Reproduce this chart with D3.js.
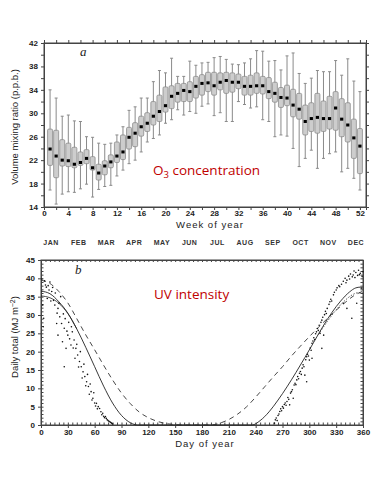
<!DOCTYPE html>
<html>
<head>
<meta charset="utf-8">
<script src="https://cdn.jsdelivr.net/npm/d3@7"></script>
<style>
  body { margin: 0; background: #fff; }
  svg { display: block; }
  .tick text { font-family: "Liberation Sans", Arial, sans-serif; font-weight: bold; fill: #222; }
</style>
</head>
<body>
<script>
// ---- panel a: weekly O3 box plots ----
const weeks = [1,2,3,4,5,6,7,8,9,10,11,12,13,14,15,16,17,18,19,20,21,22,23,24,25,26,
  27,28,29,30,31,32,33,34,35,36,37,38,39,40,41,42,43,44,45,46,47,48,49,50,51,52]
const whiskerHi = [34.0,32.6,29.5,29.7,28.7,28.6,26.0,25.9,24.9,24.7,24.9,26.3,27.7,30.5,31.1,32.6,32.6,35.4,37.3,36.9,39.4,36.3,36.3,38.9,
  38.2,38.6,38.7,39.5,39.7,39.2,38.4,38.3,38.6,39.3,40.7,40.6,38.9,39.0,37.4,39.8,40.3,36.8,35.1,36.0,37.3,37.1,37.1,39.0,36.5,39.3,35.5,33.7]
const q3 = [27.3,27.1,25.5,24.9,24.2,23.4,23.8,22.6,21.3,21.9,22.9,25.1,26.3,27.6,28.4,29.5,30.1,32.0,33.1,34.5,34.7,35.1,35.1,35.4,
  36.3,36.6,37.0,37.0,36.9,37.0,36.9,36.7,36.3,36.5,36.9,36.3,36.1,35.3,34.4,34.8,34.1,33.4,31.4,31.8,33.4,32.1,32.9,33.7,32.5,31.8,29.0,27.4]
const median = [23.9,22.7,22.0,21.9,21.3,21.6,22.3,20.7,19.8,21.0,21.7,22.7,23.4,25.9,26.6,27.7,28.3,29.5,30.3,31.3,32.9,33.4,33.9,33.7,
  34.6,35.1,35.2,34.7,35.3,35.6,35.3,35.3,34.6,34.6,34.7,34.7,33.7,33.4,32.7,32.6,31.4,30.7,28.6,29.1,29.3,29.1,29.1,30.9,29.0,28.0,25.8,24.4]
const q1 = [21.1,19.0,21.0,20.9,20.7,21.1,21.4,20.3,18.6,19.5,20.7,21.6,22.1,23.9,24.3,26.1,26.9,28.0,28.6,30.2,30.8,31.9,32.0,32.0,
  32.6,33.1,33.7,33.1,34.0,33.4,33.6,34.2,33.1,33.1,33.4,33.3,32.5,31.9,31.0,31.3,29.4,29.0,26.3,26.9,26.6,26.9,27.3,27.1,26.0,25.1,22.3,19.7]
const whiskerLo = [16.9,14.5,16.2,16.6,16.5,17.1,17.9,15.7,17.0,17.5,17.7,19.3,20.3,21.4,22.0,23.4,25.1,25.7,26.3,28.3,28.9,30.6,29.7,30.3,
  30.0,31.2,31.6,29.6,30.1,28.6,28.6,32.0,31.5,30.9,31.1,28.9,28.6,26.0,26.3,26.1,24.0,20.9,22.3,23.7,20.6,22.3,23.1,23.4,20.0,20.6,18.9,16.9]
const weekTicks = [0,2,4,6,8,10,12,14,16,18,20,22,24,26,28,30,32,34,36,38,40,42,44,46,48,50,52]
const ppbTicks = [14,16,18,20,22,24,26,28,30,32,34,36,38,40,42]

// ---- panel b: daily UV totals ----
const months = ['JAN','FEB','MAR','APR','MAY','JUN','JUL','AUG','SEP','OCT','NOV','DEC']
const curveSolid = [[0,36.5],[10,35.8],[20,33.6],[30,30.5],[40,26.2],[50,21.2],[60,15.9],[70,10.6],[80,6.0],[90,2.6],[100,0.6],[108,0],
  [236,0],[245,1.2],[255,3.6],[265,6.8],[275,10.4],[285,14.3],[295,18.4],[305,22.6],[315,26.8],[325,30.6],[335,33.8],[345,36.3],[352,37.4],[357,37.6],[360,37.3]]
const curveLow = [[0,35.2],[10,34.7],[20,33.2],[30,30.4],[40,26.2]]
const curveLowEnd = [[310,24.6],[320,28.2],[330,31.4],[340,34.0],[348,35.5],[355,36.1],[360,35.9]]
const curveDashed = [[0,39.5],[10,38.6],[20,36.4],[30,33.3],[40,29.0],[50,24.6],[60,20.5],[70,16.3],[80,12.3],[90,8.7],[100,5.8],[110,3.5],
  [120,2.0],[130,1.0],[140,0.4],[150,0.1],[160,0],[190,0],[200,0.5],[210,1.5],[220,3.0],[230,5.0],[240,7.6],[250,10.4],[260,13.2],
  [270,15.9],[280,18.8],[290,21.5],[300,24.1],[310,26.6],[320,29.0],[330,31.3],[340,33.4],[350,35.3],[360,36.5]]
const uvPoints = [[1,39.8],[2,32.7],[3,29.1],[2.5,26.8],[4,39.3],[5,38.2],[6,37.6],[7,34.5],[8,38.0],[9,36.8],[10,39.0],[11,33.8],
  [12,36.4],[13,37.5],[14,34.0],[15.5,32.7],[16,36.0],[17.5,27.7],[18,30.5],[19,31.8],[19,24.5],[20,33.2],[21,29.5],[22,35.0],
  [23,27.7],[24,22.7],[25,30.3],[26,26.4],[26,15.9],[27,29.0],[28,20.9],[29,25.6],[30,24.5],[31,28.0],[32,23.5],[33.5,21.8],
  [34,26.8],[35,25.4],[36,21.0],[37,23.2],[38,18.2],[39,20.9],[40,22.0],[41,19.1],[42,15.8],[43,17.3],[44,20.0],[45,15.9],
  [46,12.8],[47,14.5],[48,16.6],[49,13.2],[50,10.7],[51,11.8],[52,13.8],[53,10.5],[54,8.4],[55,11.2],[56,9.1],[57,6.8],
  [58,7.3],[59,8.8],[60,6.0],[61,5.2],[62,5.9],[63,4.4],[64,5.0],[65.5,4.5],[67,3.6],[68,2.8],[69,3.2],[70,2.4],[71,2.0],
  [72,2.3],[73,1.8],[74,1.4],[75,1.2],[76,1.0],[77,0.9],[78,0.7],[79,0.5],[80,0.3],
  [261,0.5],[262,1.4],[263,1.9],[264,1.2],[265,2.6],[266,3.0],[267,3.7],[268,4.4],[269,3.9],[270,5.0],[271,4.6],[272,5.6],
  [273,6.0],[274,5.4],[275,6.4],[276,7.5],[277,7.0],[278,5.5],[279,8.7],[280,9.1],[281,9.6],[282,7.3],[283,10.9],[284,11.4],
  [285,11.0],[286,12.3],[287,13.2],[288,12.6],[289,14.1],[290,14.6],[291,13.8],[292,15.5],[293,16.4],[294,15.9],[295,13.6],
  [296,17.8],[297,18.6],[297,11.8],[298,19.3],[299,18.8],[300,17.7],[301,21.0],[302,20.4],[303,22.3],[303,18.2],[304,22.9],
  [305,23.8],[306,23.3],[307,24.9],[308,25.4],[309,26.3],[310,25.8],[311,27.2],[312,25.0],[313,28.0],[314,28.6],[314,20.9],
  [315,29.4],[316,24.5],[317,30.1],[318,31.0],[319,30.4],[320,31.8],[322,32.9],[323,33.6],[324,34.3],[325,33.8],[327,35.5],
  [328,36.2],[330,36.8],[331,37.4],[333,38.0],[334,37.7],[336,38.4],[338,39.2],[338,33.2],[340,40.0],[341,38.8],[342,39.5],
  [342,31.8],[344,40.6],[345,39.8],[346,41.2],[347.5,29.1],[348,40.4],[349,40.9],[350,42.0],[351,40.2],[352,41.6],[353,33.2],
  [354,40.8],[355,42.2],[356,41.0],[357,41.4],[358,37.3],[359,40.5],[360,41.8]]
const dayTicks = [0,30,60,90,120,150,180,210,240,270,300,330,360]
const uvTicks = [0,5,10,15,20,25,30,35,40,45]

const svg = d3.select('body').append('svg')
    .attr('width', 384)
    .attr('height', 480)

const font = '"Liberation Sans", Arial, sans-serif'

// ================= panel a =================
const x = d3.scaleLinear().domain([0, 53]).range([44, 366])
const y = d3.scaleLinear().domain([14, 42]).range([207, 43])

svg.append('rect')
    .attr('x', 44).attr('y', 43)
    .attr('width', 322).attr('height', 164)
    .attr('fill', 'none').attr('stroke', '#444').attr('stroke-width', 1)

svg.append('g')
    .attr('transform', 'translate(0,207)')
    .call(d3.axisBottom(x).tickValues(weekTicks).tickSize(3).tickPadding(0.5).tickFormat(d => d % 4 == 0 ? d : ''))
svg.append('g')
    .attr('transform', 'translate(0,43)')
    .call(d3.axisTop(x).tickValues(weekTicks).tickSize(3).tickFormat(''))
svg.append('g')
    .attr('transform', 'translate(44,0)')
    .call(d3.axisLeft(y).tickValues(ppbTicks).tickSize(3).tickFormat(d => d % 4 == 2 ? d : ''))
svg.append('g')
    .attr('transform', 'translate(366,0)')
    .call(d3.axisRight(y).tickValues(ppbTicks).tickSize(3).tickFormat(''))

// whiskers
const bw = 5
svg.append('g').selectAll('line').data(weeks)
  .enter().append('line')
    .attr('x1', d => x(d)).attr('x2', d => x(d))
    .attr('y1', (d, i) => y(whiskerHi[i]))
    .attr('y2', (d, i) => y(whiskerLo[i]))
    .attr('stroke', '#8a8a8a').attr('stroke-width', 1)
svg.append('g').selectAll('path').data(weeks)
  .enter().append('path')
    .attr('d', (d, i) => 'M' + (x(d) - 1.5) + ',' + y(whiskerHi[i]) + 'h3M' + (x(d) - 1.5) + ',' + y(whiskerLo[i]) + 'h3')
    .attr('stroke', '#8a8a8a').attr('stroke-width', 1)
// boxes
svg.append('g').selectAll('rect').data(weeks)
  .enter().append('rect')
    .attr('x', d => x(d) - bw / 2)
    .attr('width', bw)
    .attr('y', (d, i) => y(q3[i]))
    .attr('height', (d, i) => y(q1[i]) - y(q3[i]))
    .attr('rx', 1.2)
    .attr('fill', '#cdcdcd').attr('stroke', '#8c8c8c').attr('stroke-width', 0.8)
// medians
svg.append('g').selectAll('rect').data(weeks)
  .enter().append('rect')
    .attr('x', d => x(d) - 1.6)
    .attr('y', (d, i) => y(median[i]) - 1.5)
    .attr('width', 3.2).attr('height', 3)
    .attr('fill', '#000')

svg.append('text')
    .attr('x', 80).attr('y', 56)
    .attr('font-family', '"Liberation Serif", serif').attr('font-style', 'italic')
    .attr('font-size', '13px').attr('fill', '#222')
    .text('a')

svg.append('text')
    .attr('transform', 'translate(18,127) rotate(-90)')
    .attr('text-anchor', 'middle')
    .attr('font-family', font).attr('font-size', '9.5px').attr('fill', '#222')
    .text('Volume mixing ratio (p.p.b.)')
svg.append('text')
    .attr('x', 210).attr('y', 228)
    .attr('text-anchor', 'middle')
    .attr('font-family', font).attr('font-size', '9.5px').attr('letter-spacing', '1px').attr('fill', '#222')
    .text('Week of year')

const o3 = svg.append('text')
    .attr('x', 153).attr('y', 175)
    .attr('font-family', '"Open Sans", "Noto Sans", sans-serif').attr('font-size', '13.5px').attr('fill', '#c00000')
o3.append('tspan').text('O')
o3.append('tspan').attr('dy', 3).attr('font-size', '9.5px').text('3')
o3.append('tspan').attr('dy', -3).text(' concentration')

// ================= panel b =================
const mx = d3.scalePoint().domain(months).range([51, 356])
svg.append('g').selectAll('text').data(months)
  .enter().append('text')
    .attr('x', d => mx(d)).attr('y', 245)
    .attr('text-anchor', 'middle')
    .attr('font-family', font).attr('font-weight', 'bold').attr('font-size', '7px').attr('fill', '#333')
    .attr('letter-spacing', '0.5px')
    .text(d => d)

const x2 = d3.scaleLinear().domain([0, 360]).range([41, 363])
const y2 = d3.scaleLinear().domain([0, 45]).range([425, 260])

svg.append('rect')
    .attr('x', 41).attr('y', 260)
    .attr('width', 322).attr('height', 165)
    .attr('fill', 'none').attr('stroke', '#444').attr('stroke-width', 1)

// minor ticks (inward)
svg.append('g')
    .attr('transform', 'translate(0,425)')
    .call(d3.axisBottom(x2).ticks(72).tickSize(-2.5).tickFormat(''))
svg.append('g')
    .attr('transform', 'translate(0,260)')
    .call(d3.axisTop(x2).ticks(72).tickSize(-2).tickFormat(''))
svg.append('g')
    .attr('transform', 'translate(41,0)')
    .call(d3.axisLeft(y2).ticks(45).tickSize(-2.5).tickFormat(''))
svg.append('g')
    .attr('transform', 'translate(363,0)')
    .call(d3.axisRight(y2).ticks(45).tickSize(-2.5).tickFormat(''))
// labelled ticks
svg.append('g')
    .attr('transform', 'translate(0,425)')
    .call(d3.axisBottom(x2).tickValues(dayTicks).tickSize(3).tickPadding(1.5))
svg.append('g')
    .attr('transform', 'translate(41,0)')
    .call(d3.axisLeft(y2).tickValues(uvTicks).tickSize(3))

svg.selectAll('.domain').attr('stroke', '#444')
svg.selectAll('.tick line').attr('stroke', '#444')
svg.selectAll('.tick text').attr('font-size', '8px')

const line = d3.line()
    .x(d => x2(d[0]))
    .y(d => y2(d[1]))
    .curve(d3.curveMonotoneX)

svg.append('path').datum(curveDashed)
    .attr('d', line).attr('fill', 'none')
    .attr('stroke', '#333').attr('stroke-width', 0.9).attr('stroke-dasharray', '5,4')
svg.append('path').datum(curveSolid)
    .attr('d', line).attr('fill', 'none')
    .attr('stroke', '#222').attr('stroke-width', 0.9)
svg.append('path').datum(curveLow)
    .attr('d', line).attr('fill', 'none')
    .attr('stroke', '#222').attr('stroke-width', 0.8)
svg.append('path').datum(curveLowEnd)
    .attr('d', line).attr('fill', 'none')
    .attr('stroke', '#333').attr('stroke-width', 0.8).attr('stroke-dasharray', '1.5,1.5')

svg.append('g').selectAll('circle').data(uvPoints)
  .enter().append('circle')
    .attr('cx', d => x2(d[0]))
    .attr('cy', d => y2(d[1]))
    .attr('r', 0.8)
    .attr('fill', '#111')

svg.append('text')
    .attr('x', 75).attr('y', 274)
    .attr('font-family', '"Liberation Serif", serif').attr('font-style', 'italic')
    .attr('font-size', '13px').attr('fill', '#222')
    .text('b')

const ylab = svg.append('text')
    .attr('transform', 'translate(18,337) rotate(-90)')
    .attr('text-anchor', 'middle')
    .attr('font-family', font).attr('font-size', '9.5px').attr('fill', '#222')
ylab.append('tspan').text('Daily total (MJ m')
ylab.append('tspan').attr('dy', -3).attr('font-size', '7px').text('−2')
ylab.append('tspan').attr('dy', 3).text(')')

svg.append('text')
    .attr('x', 205).attr('y', 447)
    .attr('text-anchor', 'middle')
    .attr('font-family', font).attr('font-size', '9.5px').attr('letter-spacing', '1px').attr('fill', '#222')
    .text('Day of year')

svg.append('text')
    .attr('x', 154).attr('y', 299)
    .attr('font-family', '"Open Sans", "Noto Sans", sans-serif').attr('font-size', '13.5px').attr('fill', '#c00000')
    .text('UV intensity')
</script>
</body>
</html>
